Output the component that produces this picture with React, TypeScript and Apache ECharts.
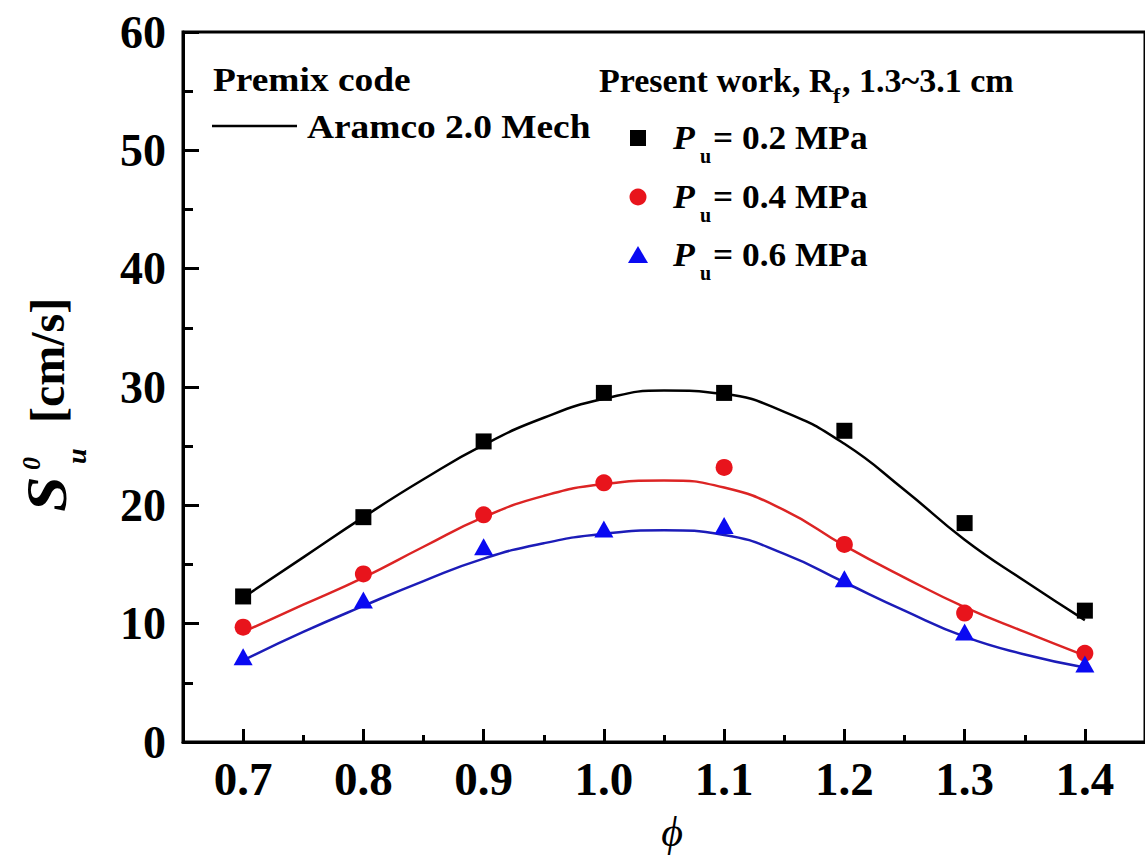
import React, { useEffect, useRef } from "react";
import * as echarts from "echarts";

// Equivalence ratio positions of the measurements
const phiPoints = [0.7, 0.8, 0.9, 1.0, 1.1, 1.2, 1.3, 1.4];
// Measured laminar burning velocities [cm/s]
const measured02 = [12.3, 19.0, 25.4, 29.5, 29.5, 26.3, 18.5, 11.1];
const measured04 = [9.7, 14.2, 19.2, 21.9, 23.2, 16.7, 10.9, 7.5];
const measured06 = [7.2, 12.0, 16.5, 18.0, 18.3, 13.8, 9.3, 6.6];

// Premix / Aramco 2.0 predictions
const phiModel = [0.7, 0.75, 0.8, 0.85, 0.9, 0.95, 1.0, 1.05, 1.1, 1.15, 1.2, 1.25, 1.3, 1.35, 1.4];
const model02 = [12.2, 15.6, 19.0, 22.2, 25.1, 27.4, 29.0, 29.7, 29.4, 27.9, 25.2, 21.3, 17.1, 13.6, 10.3];
const model04 = [9.3, 11.6, 13.9, 16.5, 19.0, 20.8, 21.8, 22.1, 21.5, 19.6, 16.6, 13.9, 11.4, 9.3, 7.3];
const model06 = [6.9, 9.3, 11.5, 13.6, 15.5, 16.8, 17.6, 17.9, 17.5, 15.9, 13.5, 11.1, 8.9, 7.4, 6.3];

// Axis ticks
const phiMajorTicks = [0.7, 0.8, 0.9, 1.0, 1.1, 1.2, 1.3, 1.4];
const phiMinorTicks = [0.75, 0.85, 0.95, 1.05, 1.15, 1.25, 1.35];

const SERIF = "'Liberation Serif', 'Times New Roman', serif";
const BLACK = "#000000";
const RED = "#e8141c";
const BLUE = "#0a0af2";
const RED_LINE = "#dc2424";
const BLUE_LINE = "#1c1cb8";

const pairs = (xs: number[], ys: number[]) => xs.map((x, i) => [x, ys[i]]);

function label(x: number, y: number, text: string, font: string, scaleX = 1) {
  return {
    type: "text",
    x,
    y,
    scaleX,
    style: { text, font, fill: BLACK, align: "left", verticalAlign: "middle" },
  };
}

function legendRow(y: number, marker: any, text: string) {
  return [
    marker,
    label(673, y, "P", `italic bold 34px ${SERIF}`, 1.05),
    label(700, y + 18, "u", `bold 20px ${SERIF}`),
    label(713, y, text, `bold 34px ${SERIF}`, 1.04),
  ];
}

export default function App() {
  const ref = useRef<HTMLDivElement>(null);

  useEffect(() => {
    if (!ref.current) return;
    const chart = echarts.init(ref.current, null, { renderer: "svg" });

    const lineSeries = (data: number[], color: string) => ({
      type: "line",
      data: pairs(phiModel, data),
      smooth: true,
      symbol: "none",
      lineStyle: { color, width: 2.5 },
      z: 2,
    });

    const pointSeries = (data: number[], symbol: string, size: any, color: string) => ({
      type: "scatter",
      data: pairs(phiPoints, data),
      symbol,
      symbolSize: size,
      itemStyle: { color, opacity: 1 },
      z: 3,
    });

    const option: any = {
      animation: false,
      backgroundColor: "#ffffff",
      grid: {
        left: 183,
        top: 32,
        width: 968,
        height: 710,
        show: true,
        borderColor: BLACK,
        borderWidth: 3,
        backgroundColor: "transparent",
      },
      xAxis: [
        {
          type: "value",
          min: 0.65,
          max: 1.45,
          position: "bottom",
          axisLine: { show: true, lineStyle: { color: BLACK, width: 3 } },
          axisTick: {
            show: true,
            inside: true,
            length: 13,
            customValues: phiMajorTicks,
            lineStyle: { color: BLACK, width: 3 },
          },
          axisLabel: {
            show: true,
            customValues: phiMajorTicks,
            formatter: (v: number) => v.toFixed(1),
            fontFamily: SERIF,
            fontWeight: "bold",
            fontSize: 47,
            color: BLACK,
            margin: 13,
          },
          splitLine: { show: false },
        },
        {
          type: "value",
          min: 0.65,
          max: 1.45,
          position: "bottom",
          axisLine: { show: false },
          axisTick: {
            show: true,
            inside: true,
            length: 7,
            customValues: phiMinorTicks,
            lineStyle: { color: BLACK, width: 3 },
          },
          axisLabel: { show: false },
          splitLine: { show: false },
        },
      ],
      yAxis: {
        type: "value",
        min: 0,
        max: 60,
        interval: 10,
        axisLine: { show: true, lineStyle: { color: BLACK, width: 3 } },
        axisTick: { show: true, inside: true, length: 16, lineStyle: { color: BLACK, width: 3 } },
        minorTick: { show: true, splitNumber: 2, length: 10, lineStyle: { color: BLACK, width: 3 } },
        axisLabel: {
          fontFamily: SERIF,
          fontWeight: "bold",
          fontSize: 46,
          color: BLACK,
          margin: 17,
        },
        splitLine: { show: false },
        minorSplitLine: { show: false },
      },
      series: [
        lineSeries(model02, BLACK),
        lineSeries(model04, RED_LINE),
        lineSeries(model06, BLUE_LINE),
        pointSeries(measured02, "rect", 16, BLACK),
        pointSeries(measured04, "circle", 17, RED),
        pointSeries(measured06, "triangle", [19, 17], BLUE),
      ],
      graphic: [
        // Model legend
        label(213, 80, "Premix code", `bold 34px ${SERIF}`, 1.1),
        { type: "line", shape: { x1: 212, y1: 126, x2: 297, y2: 126 }, style: { stroke: BLACK, lineWidth: 2.5 } },
        label(307, 127, "Aramco 2.0 Mech", `bold 34px ${SERIF}`, 1.1),
        // Measurement legend
        label(599, 80, "Present work, R", `bold 34px ${SERIF}`),
        label(833, 95, "f", `bold 22px ${SERIF}`),
        label(842, 80, ", 1.3~3.1 cm", `bold 34px ${SERIF}`),
        ...legendRow(138, { type: "rect", shape: { x: 630, y: 130, width: 16, height: 16 }, style: { fill: BLACK } }, "= 0.2 MPa"),
        ...legendRow(197, { type: "circle", shape: { cx: 638, cy: 197, r: 8.5 }, style: { fill: RED } }, "= 0.4 MPa"),
        ...legendRow(255, { type: "polygon", shape: { points: [[638, 246], [628, 263], [648, 263]] }, style: { fill: BLUE } }, "= 0.6 MPa"),
        // x axis title
        {
          type: "text",
          x: 672,
          y: 832,
          style: { text: "ϕ", font: `italic 42px ${SERIF}`, fill: BLACK, align: "center", verticalAlign: "middle" },
        },
        // y axis title, reading bottom to top
        {
          type: "group",
          x: 0,
          y: 0,
          rotation: Math.PI / 2,
          children: [
            label(-512, 47, "S", `italic bold 56px ${SERIF}`, 1.15),
            label(-470, 31, "0", `italic bold 26px ${SERIF}`),
            label(-464, 76, "u", `italic bold 28px ${SERIF}`),
            label(-423, 47, "[cm/s]", `bold 48px ${SERIF}`),
          ],
        },
      ],
    };

    chart.setOption(option);
    return () => chart.dispose();
  }, []);

  return (
    <div
      ref={ref}
      style={{ position: "fixed", left: 0, top: 0, width: 1145, height: 857, background: "#ffffff" }}
    />
  );
}
